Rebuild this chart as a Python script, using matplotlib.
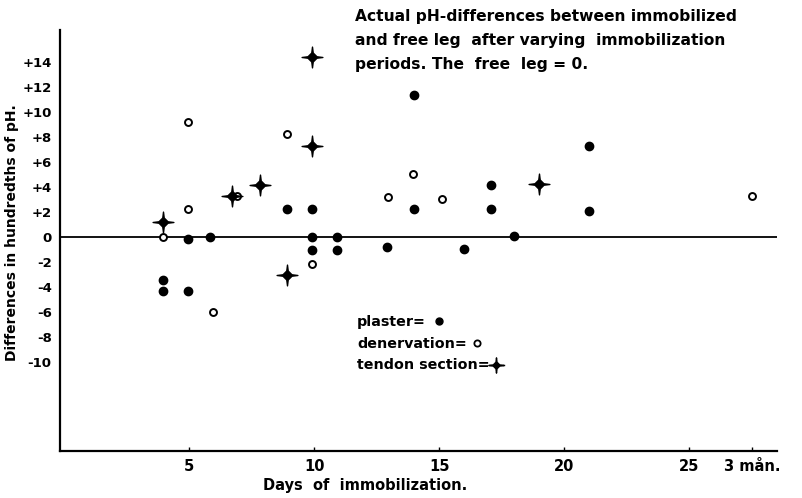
import numpy as np
import matplotlib
matplotlib.use('Agg')
import matplotlib.pyplot as plt
from matplotlib.path import Path

plt.rcParams['font.family'] = ['DejaVu Sans']
plt.rcParams['font.weight'] = 'bold'
plt.rcParams['axes.labelweight'] = 'bold'
plt.rcParams['font.size'] = 10

# plaster (filled circles)
plaster_days = [3.95, 3.95, 4.95, 4.95, 5.85, 8.9, 9.9, 9.9, 9.9, 10.9, 10.9,
                12.9, 14.0, 14.0, 16.0, 17.05, 17.05, 18.0, 21.0, 21.0]
plaster_diff = [-3.4, -4.3, -0.1, -4.3, 0.0, 2.3, 2.3, 0.0, -1.0, 0.0, -1.0,
                -0.8, 11.4, 2.3, -0.9, 4.2, 2.3, 0.15, 7.3, 2.1]
# denervation (open circles)
denerv_days = [3.95, 4.95, 4.95, 5.95, 6.9, 8.9, 9.9, 12.95, 13.95, 15.1, 27.5]
denerv_diff = [0.0, 2.3, 9.2, -6.0, 3.3, 8.3, -2.1, 3.2, 5.1, 3.1, 3.3]
# tendon section (four-pointed stars)
tendon_days = [3.95, 6.7, 7.85, 8.9, 9.9, 9.9, 19.0]
tendon_diff = [1.2, 3.3, 4.2, -3.0, 14.4, 7.3, 4.3]

xticks = [5, 10, 15, 20, 25, 27.5]
xticklabels = ['5', '10', '15', '20', '25', '3 mån.']
yticks = [14, 12, 10, 8, 6, 4, 2, 0, -2, -4, -6, -8, -10]
yticklabels = ['+14', '+12', '+10', '+8', '+6', '+4', '+2', '0',
               '-2', '-4', '-6', '-8', '-10']

title_lines = ['Actual pH-differences between immobilized',
               'and free leg  after varying  immobilization',
               'periods. The  free  leg = 0.']
legend_labels = ['plaster=', 'denervation=', 'tendon section=']

# four pointed star: diamond body with thin spikes
a, b, t = 0.5, 1.0, 0.07
star = Path([(0, b), (t, a - t), (a - t, t), (b, 0), (a - t, -t), (t, -a + t),
             (0, -b), (-t, -a + t), (-a + t, -t), (-b, 0), (-a + t, t), (-t, a - t), (0, b)],
            [Path.MOVETO] + [Path.LINETO] * 11 + [Path.CLOSEPOLY])

fig = plt.figure(figsize=(8.03, 4.98), dpi=100)
W, H = 803, 498
ax = fig.add_axes([60 / W, (H - 451) / H, (777 - 60) / W, (451 - 30) / H])

ax.axhline(0, color='black', lw=1.3, zorder=1)

ax.plot(plaster_days, plaster_diff, 'o', color='black', ms=6, zorder=3)
ax.plot(denerv_days, denerv_diff, 'o', mfc='white', mec='black', mew=1.4, ms=5, zorder=3)
ax.plot(tendon_days, tendon_diff, marker=star, ls='none', color='black', ms=15, zorder=3)

ax.set_xlim(-0.16, 28.5)
ax.set_ylim(-17.1, 16.6)
for side in ['top', 'right']:
    ax.spines[side].set_visible(False)
for side in ['left', 'bottom']:
    ax.spines[side].set_linewidth(1.6)

ax.set_xticks(xticks)
ax.set_xticklabels(xticklabels)
ax.set_yticks(yticks)
ax.set_yticklabels(yticklabels)
ax.tick_params(axis='x', direction='in', length=3, width=1, pad=6, labelsize=10.5)
ax.tick_params(axis='y', length=0, pad=6, labelsize=9.5)

ax.set_xlabel('Days  of  immobilization.', fontsize=10.5)
ax.xaxis.set_label_coords((365 - 60) / (777 - 60), -(485 - 451) / (451 - 30))
ax.set_ylabel('Differences in hundredths of pH.', fontsize=10)
ax.yaxis.set_label_coords(-(60 - 12) / (777 - 60), (451 - 233) / (451 - 30))
ax.xaxis.label.set_va('center')
ax.yaxis.label.set_va('center')

for i, line in enumerate(title_lines):
    fig.text(355 / W, 1 - (17 + 23.5 * i) / H, line, fontsize=11.2, va='center', ha='left')

# legend entries: label text then its marker
for i, lab in enumerate(legend_labels):
    fig.text(357 / W, 1 - (322 + 21.5 * i) / H, lab, fontsize=10.3, va='center', ha='left')
fig.lines.append(plt.Line2D([439 / W], [1 - 321 / H], marker='o', color='black', ms=5,
                            transform=fig.transFigure))
fig.lines.append(plt.Line2D([477 / W], [1 - 343 / H], marker='o', mfc='white', mec='black',
                            mew=1.3, ms=4.5, transform=fig.transFigure))
fig.lines.append(plt.Line2D([490 / W, 504 / W], [1 - 365 / H] * 2, color='black', lw=1,
                            transform=fig.transFigure))
fig.lines.append(plt.Line2D([496 / W], [1 - 365 / H], marker=star, color='black', ms=11,
                            transform=fig.transFigure))

fig.savefig('out.png', dpi=100)
